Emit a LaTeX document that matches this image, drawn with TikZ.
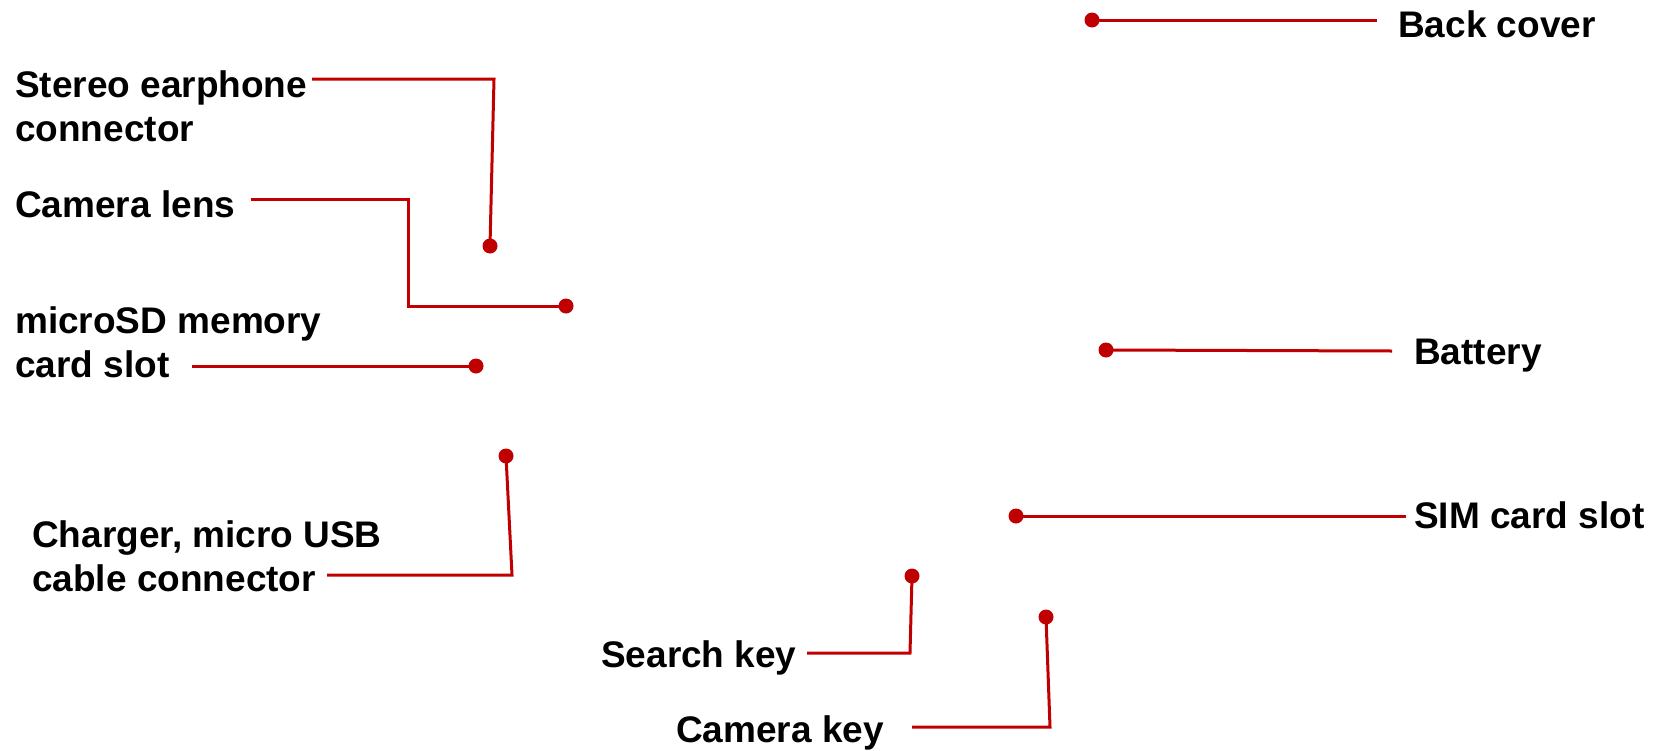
\documentclass[tikz,border=0pt]{standalone}
\usepackage{fontspec}
\setmainfont{Liberation Sans}
\definecolor{callred}{HTML}{C00000}
\tikzset{
  lbl/.style={font=\fontsize{37}{44}\selectfont\bfseries, inner sep=0, anchor=base west, align=left},
  dot/.style={circle, fill=callred, inner sep=0, minimum size=15},
  lead/.style={draw=callred, line width=3}
}
\begin{document}
\begin{tikzpicture}[x=1pt,y=-1pt]
\useasboundingbox (0,0) rectangle (1654,750);
% labels (anchor = baseline of last line)
\node[lbl] (back) at (1398,37) {Back cover};
\node[lbl] (stereo) at (15,141) {Stereo earphone\\connector};
\node[lbl] (lens) at (15,217) {Camera lens};
\node[lbl] (sd) at (15,377) {microSD memory\\card slot};
\node[lbl] (charger) at (32,591) {Charger, micro USB\\cable connector};
\node[lbl] (battery) at (1414,364) {Battery};
\node[lbl] (sim) at (1414,528) {SIM card slot};
\node[lbl] (search) at (601,667) {Search key};
\node[lbl] (camkey) at (676,742) {Camera key};
% dots
\node[dot] (dback) at (1092,20) {};
\node[dot] (dstereo) at (490,246) {};
\node[dot] (dlens) at (566,306) {};
\node[dot] (dsd) at (476,366) {};
\node[dot] (dcharger) at (506,456) {};
\node[dot] (dbattery) at (1106,350) {};
\node[dot] (dsim) at (1016,516) {};
\node[dot] (dsearch) at (912,576) {};
\node[dot] (dcamkey) at (1046,617) {};
% leader end points
\coordinate (eback) at (1377,20);
\coordinate (cstereo) at (494,79);
\coordinate (estereo) at (312,79);
\coordinate (clens1) at (408,306);
\coordinate (clens2) at (408,199);
\coordinate (elens) at (251,199);
\coordinate (esd) at (192,366);
\coordinate (ccharger) at (512,575);
\coordinate (echarger) at (327,575);
\coordinate (ebattery) at (1392,351);
\coordinate (esim) at (1406,516);
\coordinate (csearch) at (910,653);
\coordinate (esearch) at (807,653);
\coordinate (ccamkey) at (1050,727);
\coordinate (ecamkey) at (912,727);
% leaders
\draw[lead] (dback.center) -- (eback);
\draw[lead] (dstereo.center) -- (cstereo) -- (estereo);
\draw[lead] (dlens.center) -- (clens1) -- (clens2) -- (elens);
\draw[lead] (dsd.center) -- (esd);
\draw[lead] (dcharger.center) -- (ccharger) -- (echarger);
\draw[lead] (dbattery.center) -- (ebattery);
\draw[lead] (dsim.center) -- (esim);
\draw[lead] (dsearch.center) -- (csearch) -- (esearch);
\draw[lead] (dcamkey.center) -- (ccamkey) -- (ecamkey);
\end{tikzpicture}
\end{document}
